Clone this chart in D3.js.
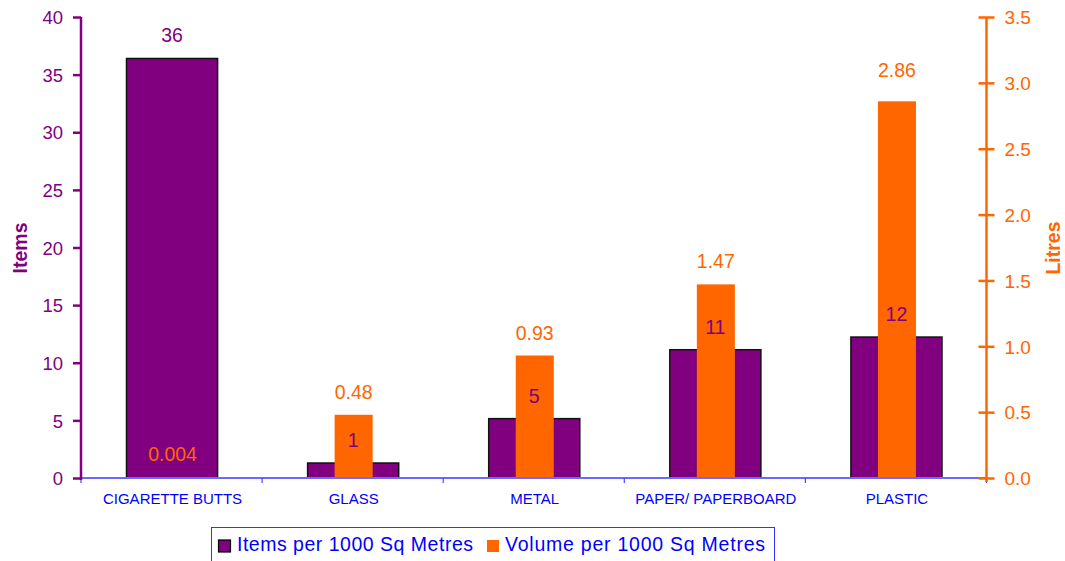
<!DOCTYPE html>
<html><head><meta charset="utf-8">
<script src="https://cdn.jsdelivr.net/npm/d3@7"></script>
<style>
html,body{margin:0;padding:0;background:#fff;}
svg{display:block;font-family:"Liberation Sans",Arial,sans-serif;}
</style>
</head><body>
<svg id="chart" width="1065" height="561"></svg>
<script>
const categories = ["CIGARETTE BUTTS","GLASS","METAL","PAPER/ PAPERBOARD","PLASTIC"];
const itemsValues = [36.4, 1.3, 5.15, 11.13, 12.23];
const itemsLabels = ["36","1","5","11","12"];
const volumeValues = [0.004, 0.48, 0.93, 1.47, 2.86];
const volumeLabels = ["0.004","0.48","0.93","1.47","2.86"];
const leftTicks = [0,5,10,15,20,25,30,35,40];
const rightTicks = [0,0.5,1.0,1.5,2.0,2.5,3.0,3.5];
const seriesNames = ["Items per 1000 Sq Metres","Volume per 1000 Sq Metres"];

const PURPLE = "#800080", ORANGE = "#FF6600", BLUE = "#0000FF";
const svg = d3.select("#chart");
const L = 81, R = 986.5, T = 17, B = 478;

const x = d3.scaleBand().domain(categories).range([L, R]).padding(0);
const yL = d3.scaleLinear().domain([0, 40]).range([B, T]);
const yR = d3.scaleLinear().domain([0, 3.5]).range([B, T]);
const bw = x.bandwidth();
const wP = bw * 0.503, wO = bw * 0.21;

// purple bars
svg.append("g").selectAll("rect").data(categories).join("rect")
  .attr("x", (d) => x(d) + (bw - wP) / 2 + 0.5)
  .attr("width", wP)
  .attr("y", (d, i) => yL(itemsValues[i]))
  .attr("height", (d, i) => B - yL(itemsValues[i]))
  .attr("fill", PURPLE).attr("stroke", "#111").attr("stroke-width", 1.5);

// orange bars
svg.append("g").selectAll("rect").data(categories).join("rect")
  .attr("x", (d) => x(d) + (bw - wO) / 2 + 1)
  .attr("width", wO)
  .attr("y", (d, i) => yR(volumeValues[i]))
  .attr("height", (d, i) => B - yR(volumeValues[i]))
  .attr("fill", ORANGE);

// baseline (category axis)
const xAxis = svg.append("g").attr("transform", `translate(0,${B})`);
xAxis.append("line").attr("x1", L).attr("x2", R).attr("y1", 0).attr("y2", 0)
  .attr("stroke", "#6a6aff").attr("stroke-width", 2);
const bounds = categories.map(c => x(c)).concat([R]);
xAxis.selectAll("line.tk").data(bounds).join("line").attr("class","tk")
  .attr("x1", d => d).attr("x2", d => d).attr("y1", 0).attr("y2", 5)
  .attr("stroke", "#4444ff").attr("stroke-width", 1.2);
xAxis.selectAll("text").data(categories).join("text")
  .attr("x", d => x(d) + bw / 2 + 1).attr("y", 26)
  .attr("text-anchor", "middle").attr("fill", BLUE)
  .style("font-size", "15px")
  .text(d => d);

// left axis
const gL = svg.append("g").attr("transform", `translate(${L},0)`)
  .call(d3.axisLeft(yL).tickValues(leftTicks).tickSize(8).tickPadding(10).tickFormat(d3.format("d")));
gL.select(".domain").attr("stroke", PURPLE).attr("stroke-width", 2.5).attr("d", `M0,${T}V${B + 2}`);
gL.selectAll(".tick line").attr("stroke", PURPLE).attr("stroke-width", 2.5);
gL.selectAll(".tick text").attr("fill", PURPLE).style("font-size", "18.5px")
  .style("font-family", "Liberation Sans, Arial, sans-serif").attr("dy", "0.36em");

// right axis
const gR = svg.append("g").attr("transform", `translate(${R},0)`)
  .call(d3.axisRight(yR).tickValues(rightTicks).tickSize(8).tickPadding(10).tickFormat(d3.format(".1f")));
gR.select(".domain").attr("stroke", ORANGE).attr("stroke-width", 2.5).attr("d", `M0,${T}V${B + 4}`);
gR.selectAll(".tick line").attr("stroke", ORANGE).attr("stroke-width", 2.5).attr("x1", -8);
gR.selectAll(".tick text").attr("fill", ORANGE).style("font-size", "19px")
  .style("font-family", "Liberation Sans, Arial, sans-serif").attr("dy", "0.36em");

// axis titles
svg.append("text").attr("transform", "translate(27,248) rotate(-90)")
  .attr("text-anchor", "middle").attr("fill", PURPLE)
  .style("font-size", "19.5px").style("font-weight", "bold").text("Items");
svg.append("text").attr("transform", "translate(1060,248) rotate(-90)")
  .attr("text-anchor", "middle").attr("fill", ORANGE)
  .style("font-size", "19.5px").style("font-weight", "bold").text("Litres");

// data labels
svg.append("g").selectAll("text").data(categories).join("text")
  .attr("x", d => x(d) + bw / 2 + 0.5)
  .attr("y", (d, i) => yL(itemsValues[i]) - 16)
  .attr("text-anchor", "middle").attr("fill", PURPLE).style("font-size", "19.5px")
  .text((d, i) => itemsLabels[i]);
svg.append("g").selectAll("text").data(categories).join("text")
  .attr("x", d => x(d) + bw / 2 + 1)
  .attr("y", (d, i) => yR(volumeValues[i]) - (i === categories.length - 1 ? 24 : 16))
  .attr("text-anchor", "middle").attr("fill", ORANGE).style("font-size", "19.5px")
  .text((d, i) => volumeLabels[i]);

// legend
const lg = svg.append("g");
lg.append("rect").attr("x", 211.5).attr("y", 527.5).attr("width", 563).attr("height", 40)
  .attr("fill", "#fff").attr("stroke", "#3333ff").attr("stroke-width", 1);
const legendItems = [
  {name: seriesNames[0], color: PURPLE, sx: 218.5, tx: 237, tl: 236, stroke: "#000"},
  {name: seriesNames[1], color: ORANGE, sx: 487, tx: 505, tl: 260, stroke: "none"}
];
legendItems.forEach(it => {
  lg.append("rect").attr("x", it.sx).attr("y", 540).attr("width", 12).attr("height", 12)
    .attr("fill", it.color).attr("stroke", it.stroke).attr("stroke-width", 1.2);
  lg.append("text").attr("x", it.tx).attr("y", 550.5).attr("fill", BLUE)
    .style("font-size", "19.5px").attr("textLength", it.tl).attr("lengthAdjust", "spacing")
    .text(it.name);
});
</script>
</body></html>
